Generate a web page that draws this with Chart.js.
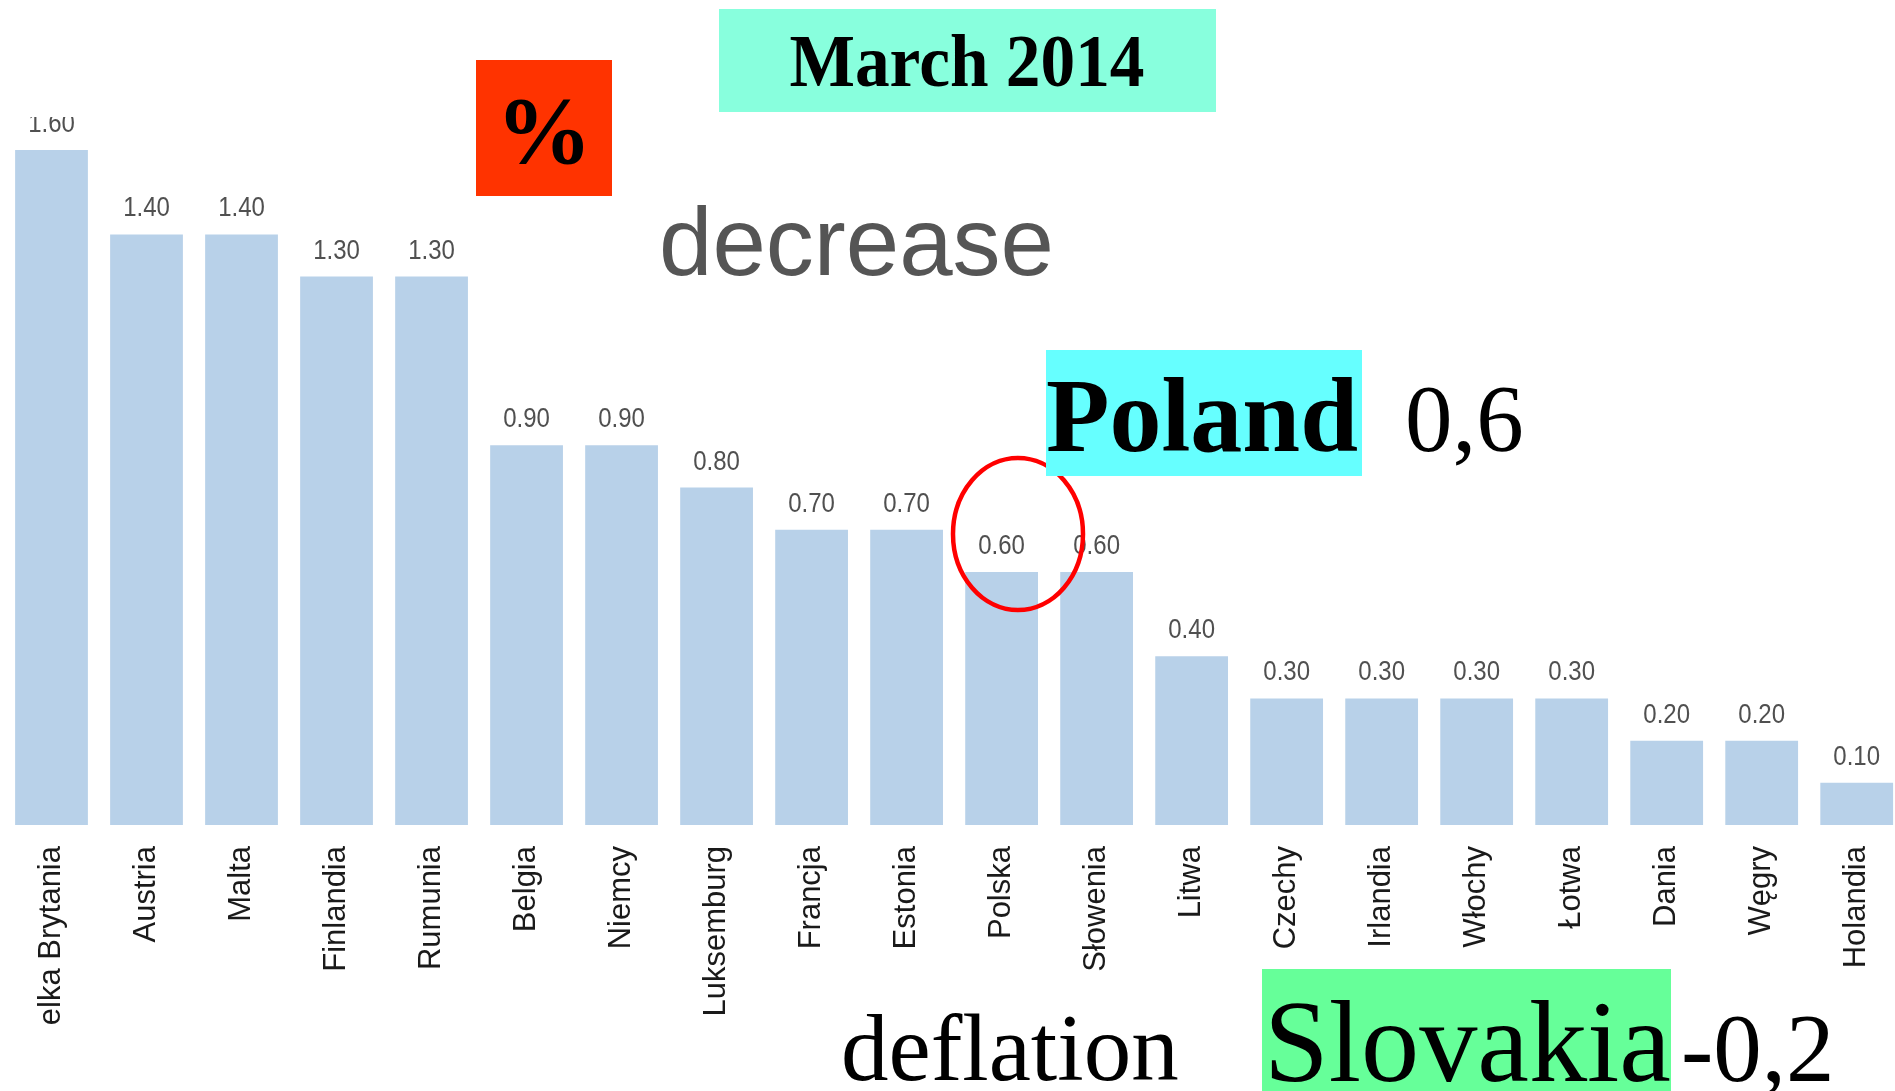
<!DOCTYPE html>
<html>
<head>
<meta charset="utf-8">
<script src="https://cdn.jsdelivr.net/npm/chart.js@4/dist/chart.umd.min.js"></script>
<style>
  html, body { margin: 0; padding: 0; background: #fff; overflow: hidden; }
  body { width: 1895px; height: 1091px; position: relative; }
  #wrap {
    position: absolute; left: 0; top: 0; width: 1915px; height: 1091px;
    clip-path: inset(117px 0 66px 0);
  }
  #notes { position: absolute; left: 0; top: 0; }
</style>
</head>
<body>
<div id="wrap"><canvas id="chart"></canvas></div>
<svg id="notes" width="1895" height="1091" xmlns="http://www.w3.org/2000/svg">
  <rect x="719" y="9" width="497" height="103" fill="#88FFDD"/>
  <text x="967" y="86" text-anchor="middle" font-family="Liberation Serif" font-weight="bold" font-size="73" textLength="355" lengthAdjust="spacingAndGlyphs">March 2014</text>

  <rect x="476" y="60" width="136" height="136" fill="#FF3300"/>
  <text x="544" y="163" text-anchor="middle" font-family="Liberation Serif" font-weight="bold" font-size="96">%</text>

  <text x="659" y="275" font-family="Liberation Sans" font-size="96" fill="#555555">decrease</text>

  <ellipse cx="1018" cy="534" rx="65" ry="76" fill="none" stroke="#FF0000" stroke-width="4.5"/>

  <rect x="1046" y="350" width="316" height="126" fill="#66FFFF"/>
  <text x="1046" y="451" font-family="Liberation Serif" font-weight="bold" font-size="105" textLength="312" lengthAdjust="spacingAndGlyphs">Poland</text>
  <text x="1405" y="451" font-family="Liberation Serif" font-size="95">0,6</text>

  <text x="841" y="1080" font-family="Liberation Serif" font-size="95">deflation</text>

  <rect x="1262" y="969" width="409" height="122" fill="#66FF99"/>
  <text x="1264" y="1081" font-family="Liberation Serif" font-size="117" textLength="407" lengthAdjust="spacingAndGlyphs">Slovakia</text>
  <text x="1681" y="1081" font-family="Liberation Serif" font-size="97">-0,2</text>
</svg>
<script>
const countries = [
  'Wielka Brytania', 'Austria', 'Malta', 'Finlandia', 'Rumunia',
  'Belgia', 'Niemcy', 'Luksemburg', 'Francja', 'Estonia',
  'Polska', 'Słowenia', 'Litwa', 'Czechy', 'Irlandia',
  'Włochy', 'Łotwa', 'Dania', 'Węgry', 'Holandia'
];
const inflation = [
  1.6, 1.4, 1.4, 1.3, 1.3,
  0.9, 0.9, 0.8, 0.7, 0.7,
  0.6, 0.6, 0.4, 0.3, 0.3,
  0.3, 0.3, 0.2, 0.2, 0.1
];
const yMin = 0;
const yMax = 1.6;

// values over the bars, drawn from the bar elements themselves
const valueLabels = {
  id: 'valueLabels',
  afterDatasetsDraw(chart) {
    const ctx = chart.ctx;
    const meta = chart.getDatasetMeta(0);
    ctx.save();
    ctx.fillStyle = '#505050';
    ctx.font = '24px "Liberation Sans", Arial, sans-serif';
    ctx.textAlign = 'center';
    ctx.textBaseline = 'alphabetic';
    meta.data.forEach((bar, i) => {
      ctx.save();
      ctx.translate(bar.x, bar.y - 18);
      ctx.scale(1, 1.15);
      ctx.fillText(inflation[i].toFixed(2), 0, 0);
      ctx.restore();
    });
    ctx.restore();
  }
};

new Chart(document.getElementById('chart'), {
  type: 'bar',
  data: {
    labels: countries,
    datasets: [{
      data: inflation,
      backgroundColor: '#B8D1E9',
      borderWidth: 0,
      barPercentage: 0.766,
      categoryPercentage: 1.0
    }]
  },
  options: {
    responsive: true,
    maintainAspectRatio: false,
    animation: false,
    layout: { padding: { top: 150, left: 4, right: 4, bottom: 0 } },
    plugins: {
      legend: { display: false },
      tooltip: { enabled: false }
    },
    scales: {
      x: {
        grid: { display: false, drawTicks: false },
        border: { display: false },
        ticks: {
          autoSkip: false,
          minRotation: 90,
          maxRotation: 90,
          padding: 21,
          color: '#1a1a1a',
          font: { family: 'Liberation Sans', size: 31 }
        },
        afterFit: (scale) => { scale.height = 266; }
      },
      y: {
        display: false,
        min: yMin,
        max: yMax
      }
    }
  },
  plugins: [valueLabels]
});
</script>
</body>
</html>
